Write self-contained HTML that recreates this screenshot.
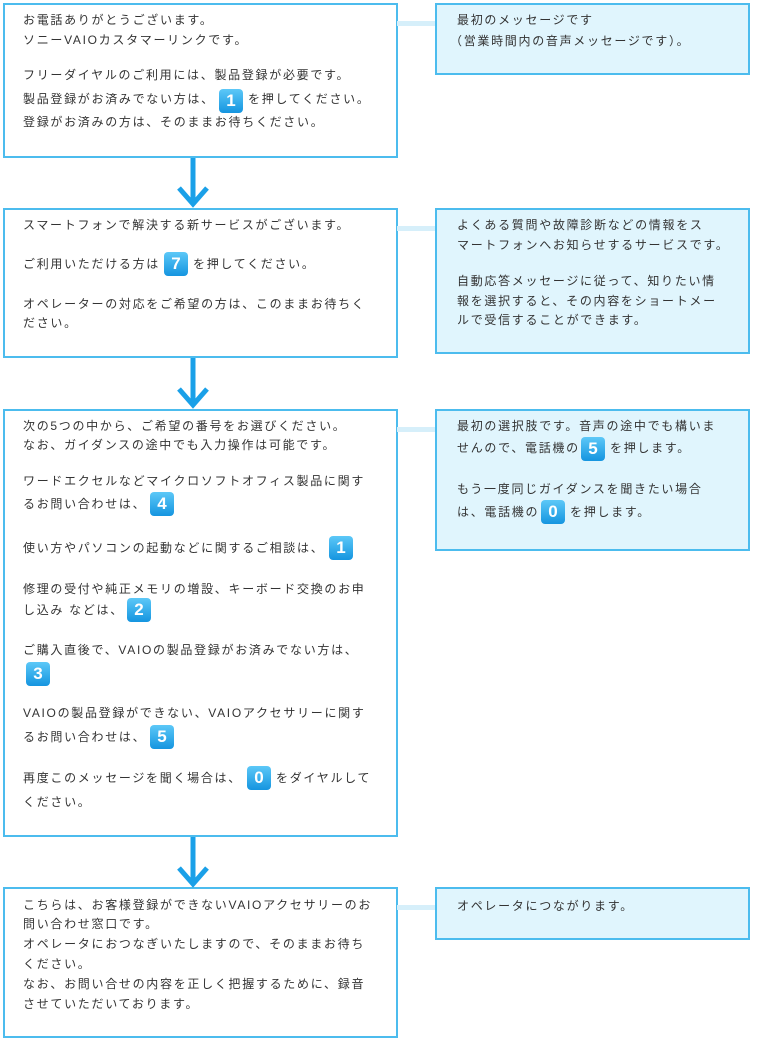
<!DOCTYPE html>
<html><head><meta charset="utf-8"><style>
body{margin:0;width:760px;height:1040px;background:#fff;position:relative;overflow:hidden;font-family:"Liberation Sans","Noto Sans CJK JP",sans-serif;}
.b{position:absolute;border:2px solid #4cbcee;box-sizing:border-box;background:#fff}
.r{background:#e0f5fd}
.c{position:absolute;height:5px;background:#d6effa;left:397px;width:38px}
.t{position:absolute;font-size:12px;letter-spacing:1.7px;color:#333;line-height:18px;white-space:nowrap}
.k{position:absolute;width:24px;height:24px;border-radius:4px;background:linear-gradient(#5cc8f8,#1595e0);color:#fff;font-weight:bold;font-size:17px;line-height:24px;text-align:center;font-family:"Liberation Sans",sans-serif}
</style></head><body>
<div class="b" style="left:3px;top:3px;width:395px;height:155px"></div>
<div class="b r" style="left:435px;top:3px;width:315px;height:72px"></div>
<div class="c" style="top:21px"></div>
<div class="b" style="left:3px;top:208px;width:395px;height:150px"></div>
<div class="b r" style="left:435px;top:208px;width:315px;height:146px"></div>
<div class="c" style="top:226px"></div>
<div class="b" style="left:3px;top:409px;width:395px;height:428px"></div>
<div class="b r" style="left:435px;top:409px;width:315px;height:142px"></div>
<div class="c" style="top:427px"></div>
<div class="b" style="left:3px;top:887px;width:395px;height:151px"></div>
<div class="b r" style="left:435px;top:887px;width:315px;height:53px"></div>
<div class="c" style="top:905px"></div>
<svg style="position:absolute;left:0;top:0" width="760" height="1040">
<g stroke="#1aa0e8" stroke-width="5" fill="none">
<path d="M193 158V205M179 188L193 204L207 188"/>
<path d="M193 358V406M179 389L193 405L207 389"/>
<path d="M193 837V884M179 868L193 884L207 868"/>
</g></svg>
<div class="t" style="left:23px;top:11px">お電話ありがとうございます。</div>
<div class="t" style="left:23px;top:31px">ソニーVAIOカスタマーリンクです。</div>
<div class="t" style="left:23px;top:66px">フリーダイヤルのご利用には、製品登録が必要です。</div>
<div class="t" style="left:23px;top:90px">製品登録がお済みでない方は、</div><div class="k" style="left:219px;top:89px">1</div><div class="t" style="left:248px;top:90px">を押してください。</div>
<div class="t" style="left:23px;top:113px">登録がお済みの方は、そのままお待ちください。</div>
<div class="t" style="left:457px;top:11px">最初のメッセージです</div>
<div class="t" style="left:450px;top:32px">（営業時間内の音声メッセージです）。</div>

<div class="t" style="left:23px;top:216px">スマートフォンで解決する新サービスがございます。</div>
<div class="t" style="left:23px;top:255px">ご利用いただける方は</div><div class="k" style="left:164px;top:252px">7</div><div class="t" style="left:193px;top:255px">を押してください。</div>
<div class="t" style="left:23px;top:295px">オペレーターの対応をご希望の方は、このままお待ちく</div>
<div class="t" style="left:23px;top:314px">ださい。</div>
<div class="t" style="left:457px;top:216px">よくある質問や故障診断などの情報をス</div>
<div class="t" style="left:457px;top:236px">マートフォンへお知らせするサービスです。</div>
<div class="t" style="left:457px;top:272px">自動応答メッセージに従って、知りたい情</div>
<div class="t" style="left:457px;top:292px">報を選択すると、その内容をショートメー</div>
<div class="t" style="left:457px;top:311px">ルで受信することができます。</div>

<div class="t" style="left:23px;top:417px">次の5つの中から、ご希望の番号をお選びください。</div>
<div class="t" style="left:23px;top:436px">なお、ガイダンスの途中でも入力操作は可能です。</div>
<div class="t" style="left:23px;top:472px">ワードエクセルなどマイクロソフトオフィス製品に関す</div>
<div class="t" style="left:23px;top:495px">るお問い合わせは、</div><div class="k" style="left:150px;top:492px">4</div>
<div class="t" style="left:23px;top:539px">使い方やパソコンの起動などに関するご相談は、</div><div class="k" style="left:329px;top:536px">1</div>
<div class="t" style="left:23px;top:580px">修理の受付や純正メモリの増設、キーボード交換のお申</div>
<div class="t" style="left:23px;top:601px">し込み などは、</div><div class="k" style="left:127px;top:598px">2</div>
<div class="t" style="left:23px;top:641px">ご購入直後で、VAIOの製品登録がお済みでない方は、</div>
<div class="k" style="left:26px;top:662px">3</div>
<div class="t" style="left:23px;top:704px">VAIOの製品登録ができない、VAIOアクセサリーに関す</div>
<div class="t" style="left:23px;top:728px">るお問い合わせは、</div><div class="k" style="left:150px;top:725px">5</div>
<div class="t" style="left:23px;top:769px">再度このメッセージを聞く場合は、</div><div class="k" style="left:247px;top:766px">0</div><div class="t" style="left:276px;top:769px">をダイヤルして</div>
<div class="t" style="left:23px;top:793px">ください。</div>
<div class="t" style="left:457px;top:417px">最初の選択肢です。音声の途中でも構いま</div>
<div class="t" style="left:457px;top:439px">せんので、電話機の</div><div class="k" style="left:581px;top:437px">5</div><div class="t" style="left:610px;top:439px">を押します。</div>
<div class="t" style="left:457px;top:480px">もう一度同じガイダンスを聞きたい場合</div>
<div class="t" style="left:457px;top:503px">は、電話機の</div><div class="k" style="left:541px;top:500px">0</div><div class="t" style="left:570px;top:503px">を押します。</div>

<div class="t" style="left:23px;top:896px">こちらは、お客様登録ができないVAIOアクセサリーのお</div>
<div class="t" style="left:23px;top:915px">問い合わせ窓口です。</div>
<div class="t" style="left:23px;top:935px">オペレータにおつなぎいたしますので、そのままお待ち</div>
<div class="t" style="left:23px;top:955px">ください。</div>
<div class="t" style="left:23px;top:975px">なお、お問い合せの内容を正しく把握するために、録音</div>
<div class="t" style="left:23px;top:995px">させていただいております。</div>
<div class="t" style="left:457px;top:897px">オペレータにつながります。</div>
</body></html>
